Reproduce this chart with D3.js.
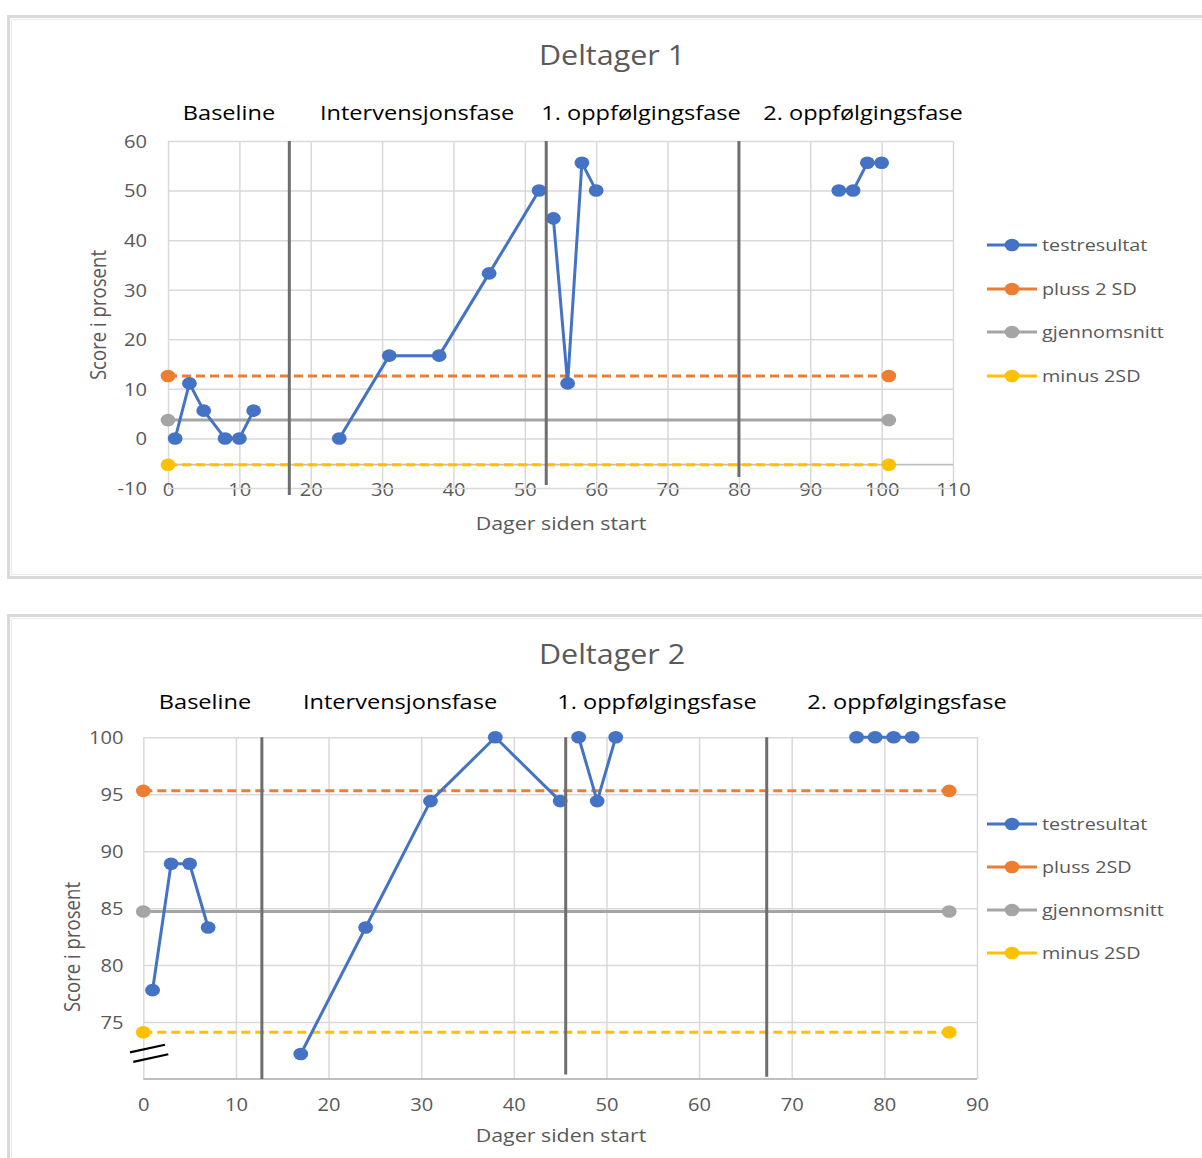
<!DOCTYPE html>
<html><head><meta charset="utf-8">
<script src="https://cdn.jsdelivr.net/npm/d3@7"></script>
<style>
body{margin:0;background:#fff}
svg{display:block}
text{font-family:"Open Sans",sans-serif}
</style>
</head><body>
<svg id="c" width="1202" height="1158"></svg>
<script>
// ---------- DATA ----------
const phaseNames = ["Baseline", "Intervensjonsfase", "1. oppfølgingsfase", "2. oppfølgingsfase"];
const legendNames1 = ["testresultat", "pluss 2 SD", "gjennomsnitt", "minus 2SD"];
const legendNames2 = ["testresultat", "pluss 2SD", "gjennomsnitt", "minus 2SD"];
const titles = ["Deltager 1", "Deltager 2"];
const xTitle = "Dager siden start";
const yTitle = "Score i prosent";

// Deltager 1
const p1Days   = [1, 3, 5, 8, 10, 12,  24, 31, 38, 45, 52,  54, 56, 58, 60,  94, 96, 98, 100];
const p1Scores = [0, 11.1, 5.6, 0, 0, 5.6,  0, 16.7, 16.7, 33.3, 50,  44.4, 11.1, 55.6, 50,  50, 50, 55.6, 55.6];
const p1Phase  = [0, 0, 0, 0, 0, 0,  1, 1, 1, 1, 1,  2, 2, 2, 2,  3, 3, 3, 3];
const p1RefLevels = [12.6, 3.7, -5.3];          // pluss 2 SD, gjennomsnitt, minus 2SD
const p1RefDays = [0, 101];
const p1Dividers = [17, 53, 80];
const p1DividerBottoms = [-11.4, -9.4, -7.8];
const p1XTicks = [0, 10, 20, 30, 40, 50, 60, 70, 80, 90, 100, 110];
const p1YTicks = [-10, 0, 10, 20, 30, 40, 50, 60];
const p1AxisCross = -5.3;

// Deltager 2
const p2Days   = [1, 3, 5, 7,  17, 24, 31, 38, 45,  47, 49, 51,  77, 79, 81, 83];
const p2Scores = [77.8, 88.9, 88.9, 83.3,  72.2, 83.3, 94.4, 100, 94.4,  100, 94.4, 100,  100, 100, 100, 100];
const p2Phase  = [0, 0, 0, 0,  1, 1, 1, 1, 1,  2, 2, 2,  3, 3, 3, 3];
const p2RefLevels = [95.3, 84.7, 74.1];
const p2RefDays = [0, 87];
const p2Dividers = [12.8, 45.6, 67.3];
const p2DividerBottoms = [70, 70.4, 70.2];
const p2XTicks = [0, 10, 20, 30, 40, 50, 60, 70, 80, 90];
const p2YTicks = [75, 80, 85, 90, 95, 100];

// ---------- STYLE / LAYOUT ----------
const SX = 1.15;
const C_BLUE = "#4472C4", C_ORANGE = "#ED7D31", C_GREY = "#A5A5A5", C_YELLOW = "#FFC000";
const refColors = [C_ORANGE, C_GREY, C_YELLOW];
const refDash = ["9,5", null, "9,5"];
const legendColors = [C_BLUE, C_ORANGE, C_GREY, C_YELLOW];
const FONT = '"Open Sans", sans-serif';
const LW = 3, RX = 7.4, RY = 6.3, TICK_FS = 17.5;

const svg = d3.select("#c");

function label(g, x, y, str, o = {}) {
  const t = g.append("g").attr("transform",
    `translate(${x},${y}) scale(${SX},1)` + (o.rotate ? ` rotate(${o.rotate})` : ""));
  t.append("text")
    .attr("text-anchor", o.anchor || "middle")
    .attr("dy", "0.36em")
    .attr("font-size", o.size)
    .attr("fill", o.fill || "#595959")
    .text(str);
}

function drawChart(c) {
  const g = svg.append("g");
  // frame
  g.append("rect").attr("x", c.frame[0] + 1.5).attr("y", c.frame[1] + 1.5)
    .attr("width", c.frame[2]).attr("height", c.frame[3])
    .attr("fill", "none").attr("stroke", "#d9d9d9").attr("stroke-width", 3);
  g.append("rect").attr("x", c.frame[0] + 4.5).attr("y", c.frame[1] + 4.5)
    .attr("width", c.frame[2]).attr("height", c.frame[3] - 6)
    .attr("fill", "none").attr("stroke", "#ececec").attr("stroke-width", 1);

  const [px0, px1, py0, py1] = c.plot;
  const x = d3.scaleLinear().domain(c.xDomain).range([px0, px1]);
  const y = d3.scaleLinear().domain(c.yDomain).range([py1, py0]);

  // x grid + labels
  const ax = g.append("g").attr("transform", `translate(0,${py1})`)
    .call(d3.axisBottom(x).tickValues(c.xTicks).tickSize(-(py1 - py0)).tickSizeOuter(0).tickFormat(d => d));
  ax.attr("font-family", FONT).attr("font-size", TICK_FS);
  ax.select(".domain").remove();
  ax.selectAll(".tick line").attr("stroke", "#d9d9d9").attr("stroke-width", 1.5);
  ax.selectAll(".tick text").attr("y", 0).attr("dy", "0.36em").attr("fill", "#595959")
    .attr("transform", `translate(0,${c.xLabelY - py1}) scale(${SX},1)`);

  // y grid + labels
  const ay = g.append("g").attr("transform", `translate(${px0},0)`)
    .call(d3.axisLeft(y).tickValues(c.yTicks).tickSize(-(px1 - px0)).tickSizeOuter(0).tickFormat(d => d));
  ay.attr("font-family", FONT).attr("font-size", TICK_FS);
  ay.select(".domain").remove();
  ay.selectAll(".tick line").attr("stroke", "#d9d9d9").attr("stroke-width", 1.5);
  ay.selectAll(".tick text").attr("x", 0).attr("dy", "0.36em").attr("fill", "#595959")
    .attr("transform", `translate(${c.yLabelEnd - px0},0) scale(${SX},1)`);

  // horizontal axis line
  g.append("line").attr("x1", px0).attr("x2", px1)
    .attr("y1", y(c.axisCross)).attr("y2", y(c.axisCross))
    .attr("stroke", "#bfbfbf").attr("stroke-width", 1.8);

  // reference lines
  c.refLevels.forEach((v, i) => {
    const l = g.append("line").attr("x1", x(c.refDays[0])).attr("x2", x(c.refDays[1]))
      .attr("y1", y(v)).attr("y2", y(v))
      .attr("stroke", refColors[i]).attr("stroke-width", LW);
    if (refDash[i]) l.attr("stroke-dasharray", refDash[i]);
    g.selectAll(null).data(c.refDays).join("ellipse")
      .attr("cx", d => x(d)).attr("cy", y(v)).attr("rx", RX).attr("ry", RY)
      .attr("fill", refColors[i]);
  });

  // testresultat
  const pts = c.days.map((d, i) => ({ d, s: c.scores[i], p: c.phase[i] }));
  const line = d3.line().x(p => x(p.d)).y(p => y(p.s));
  d3.groups(pts, p => p.p).forEach(([, arr]) => {
    g.append("path").attr("d", line(arr)).attr("fill", "none")
      .attr("stroke", C_BLUE).attr("stroke-width", LW).attr("stroke-linejoin", "round");
  });
  g.selectAll(null).data(pts).join("ellipse")
    .attr("cx", p => x(p.d)).attr("cy", p => y(p.s)).attr("rx", RX).attr("ry", RY)
    .attr("fill", C_BLUE);

  // phase dividers
  c.dividers.forEach((d, i) => {
    g.append("line").attr("x1", x(d)).attr("x2", x(d))
      .attr("y1", y(c.yDomain[1])).attr("y2", y(c.dividerBottoms[i]))
      .attr("stroke", "#6e6e6e").attr("stroke-width", 3);
  });

  // texts
  label(g, c.titleX, c.titleY, c.title, { size: 26.5 });
  phaseNames.forEach((n, i) => label(g, c.phaseX[i], c.phaseY, n, { size: 20.5, fill: "#000" }));
  label(g, c.xTitleX, c.xTitleY, xTitle, { size: 18.6 });
  label(g, c.yTitleX, c.yTitleY, yTitle, { size: 18.6, rotate: -90 });

  // legend
  c.legend.forEach((n, i) => {
    const ly = c.legendY[i];
    g.append("line").attr("x1", 987).attr("x2", 1037).attr("y1", ly).attr("y2", ly)
      .attr("stroke", legendColors[i]).attr("stroke-width", LW);
    g.append("ellipse").attr("cx", 1012).attr("cy", ly).attr("rx", RX).attr("ry", RY)
      .attr("fill", legendColors[i]);
    label(g, 1042, ly, n, { size: 17.2, anchor: "start" });
  });

  return { g, x, y };
}

drawChart({
  frame: [7, 15, 1200, 561], plot: [168, 953, 141, 488],
  xDomain: [0, 110], yDomain: [-10, 60], xTicks: p1XTicks, yTicks: p1YTicks, axisCross: p1AxisCross,
  days: p1Days, scores: p1Scores, phase: p1Phase,
  refLevels: p1RefLevels, refDays: p1RefDays, dividers: p1Dividers, dividerBottoms: p1DividerBottoms,
  title: titles[0], titleX: 612, titleY: 55,
  phaseX: [229, 417, 641, 863], phaseY: 113,
  xLabelY: 490, yLabelEnd: 147, xTitleX: 561, xTitleY: 523, yTitleX: 98, yTitleY: 315,
  legend: legendNames1, legendY: [245, 289, 332, 376]
});

const c2 = drawChart({
  frame: [7, 614, 1200, 620], plot: [143.3, 977, 737.3, 1079],
  xDomain: [0, 90], yDomain: [70, 100], xTicks: p2XTicks, yTicks: p2YTicks, axisCross: 70,
  days: p2Days, scores: p2Scores, phase: p2Phase,
  refLevels: p2RefLevels, refDays: p2RefDays, dividers: p2Dividers, dividerBottoms: p2DividerBottoms,
  title: titles[1], titleX: 612, titleY: 654,
  phaseX: [205, 400, 657, 907], phaseY: 702,
  xLabelY: 1105, yLabelEnd: 123.5, xTitleX: 561, xTitleY: 1135, yTitleX: 72, yTitleY: 947,
  legend: legendNames2, legendY: [824, 867, 910, 953]
});

// axis break mark on chart 2 y-axis
[72.67, 71.84].forEach((v, i) => {
  const cx = c2.x(0) + 4.2 + i * 3.3, cy = c2.y(v);
  c2.g.append("line").attr("x1", cx - 17.5).attr("x2", cx + 17.5)
    .attr("y1", cy + 3.8).attr("y2", cy - 3.8)
    .attr("stroke", "#000").attr("stroke-width", 2.2);
});
</script>
</body></html>
